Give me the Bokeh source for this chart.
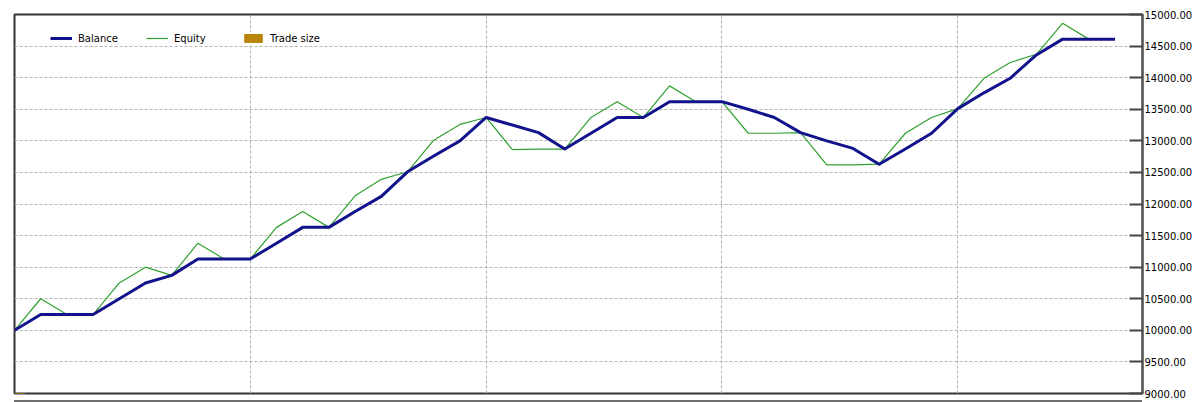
from bokeh.plotting import figure
from bokeh.models import (FixedTicker, NumeralTickFormatter, Legend, LegendItem,
                          Range1d, ColumnDataSource, Div, Column)
from bokeh.embed import file_html
from bokeh.resources import INLINE

# ---- data ----
balance = [10000, 10250, 10250, 10250, 10500, 10750, 10870, 11130, 11130, 11130,
           11380, 11630, 11630, 11880, 12120, 12510, 12760, 13000, 13370, 13250,
           13130, 12870, 13120, 13370, 13370, 13620, 13620, 13620, 13500, 13370,
           13130, 13000, 12880, 12630, 12870, 13120, 13510, 13760, 13990, 14360,
           14610, 14610, 14610]
equity = [10000, 10500, 10250, 10250, 10750, 11000, 10870, 11380, 11130, 11130,
          11630, 11880, 11630, 12130, 12390, 12510, 13010, 13260, 13370, 12860,
          12870, 12870, 13370, 13620, 13370, 13870, 13620, 13620, 13120, 13120,
          13130, 12620, 12620, 12630, 13120, 13370, 13510, 13990, 14240, 14370,
          14860, 14610, 14610]
trade_no = list(range(len(balance)))
# trade-size panel is not visible in this view: no values
trade_size_x = [None]
trade_size = [None]
y_ticks = [9000, 9500, 10000, 10500, 11000, 11500, 12000, 12500, 13000, 13500,
           14000, 14500, 15000]
x_grid_ticks = [9, 18, 27, 36]

src = ColumnDataSource(dict(x=trade_no, balance=balance, equity=equity))
ts_src = ColumnDataSource(dict(x=trade_size_x, top=trade_size))

p = figure(width=1196, height=400,
           x_range=Range1d(0, 43.05), y_range=Range1d(9000, 15000),
           x_axis_location=None, y_axis_location="right",
           toolbar_location=None, output_backend="svg",
           min_border_left=14, min_border_top=14, min_border_bottom=7,
           min_border_right=54)
p.background_fill_color = "white"
p.border_fill_color = "white"
p.outline_line_color = "#333333"
p.outline_line_width = 2

ax = p.yaxis[0]
ax.ticker = FixedTicker(ticks=y_ticks)
ax.formatter = NumeralTickFormatter(format="0.00")
ax.major_tick_in = 13
ax.major_tick_out = 0
ax.minor_tick_line_color = None
ax.axis_line_color = "#555555"
ax.axis_line_width = 2
ax.major_tick_line_color = "#444444"
ax.major_tick_line_width = 2
ax.major_label_standoff = 2
ax.major_label_text_font = "DejaVu Sans"
ax.major_label_text_font_size = "10px"
ax.major_label_text_color = "#000000"

p.ygrid.grid_line_color = "#b4b4b4"
p.ygrid.grid_line_dash = "3 2"
p.ygrid.grid_line_width = 1
p.xgrid.ticker = FixedTicker(ticks=x_grid_ticks)
p.xgrid.grid_line_color = "#b4b4b4"
p.xgrid.grid_line_dash = "3 2"
p.xgrid.grid_line_width = 1

rt = p.vbar(x="x", top="top", width=0.8, source=ts_src,
            fill_color="#b8860b", line_color="#b8860b")
re = p.line("x", "equity", source=src, line_color="#30a030", line_width=1.2)
rb = p.line("x", "balance", source=src, line_color="#12128c", line_width=3,
            line_join="round")

legend = Legend(items=[LegendItem(label="Balance", renderers=[rb]),
                       LegendItem(label="Equity", renderers=[re]),
                       LegendItem(label="Trade size", renderers=[rt])],
                orientation="horizontal", location=(36, 349),
                padding=6, margin=0, spacing=24,
                glyph_width=22, glyph_height=10, label_height=12,
                label_width=44,
                label_standoff=6, label_text_font="DejaVu Sans",
                label_text_font_size="10px", label_text_color="#000000",
                border_line_color=None, background_fill_color="white",
                background_fill_alpha=1)
p.add_layout(legend)

sep = Div(text="", width=1128, height=2, margin=(0, 0, 0, 14),
          styles={"border-top": "2px solid #707070"})
layout = Column(p, sep, spacing=0)

open("out.html", "w").write(file_html(layout, INLINE))
